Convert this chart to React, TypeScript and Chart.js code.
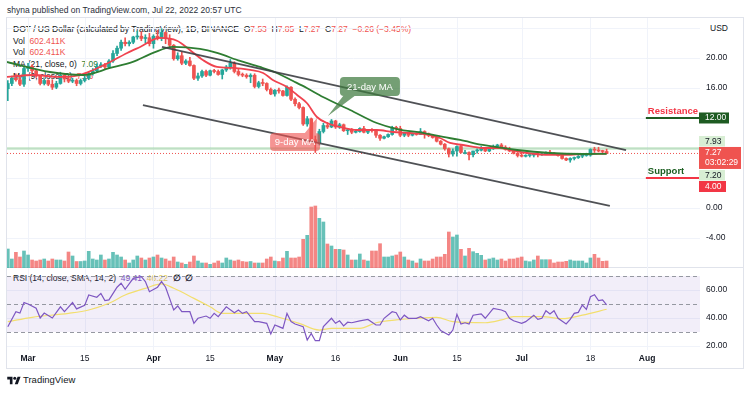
import React, { useEffect, useRef } from "react";
import { Chart, registerables } from "chart.js";

Chart.register(...registerables);

// ---------------- time axis (day 0 = 24 Feb 2022, daily bars) ----------------
const tickDays = [5, 19, 36, 50, 66, 81, 97, 111, 127, 144, 158];
const tickLabels = ["Mar", "15", "Apr", "15", "May", "16", "Jun", "15", "Jul", "18", "Aug"];
const boldTickLabels = ["Mar", "Apr", "May", "Jun", "Jul", "Aug"];

// ---------------- DOT / USD daily candles ----------------
const opens = [
  15.9, 16.6, 17.3, 17.1, 16.5, 18.6, 18.9, 18.3, 17.6, 16.6,
  17.0, 16.5, 16.1, 16.6, 17.7, 17.2, 16.9, 17.0, 16.6, 17.0,
  17.3, 17.9, 18.3, 18.9, 19.1, 18.8, 19.6, 20.6, 21.3, 22.1,
  21.9, 22.1, 22.8, 22.9, 22.6, 22.7, 21.9, 22.9, 22.6, 23.4,
  22.6, 21.7, 19.9, 20.3, 19.3, 19.6, 19.0, 17.3, 17.6, 18.2,
  17.7, 18.3, 18.2, 17.8, 18.4, 18.8, 19.3, 18.2, 17.8, 17.7,
  17.5, 17.7, 16.2, 16.7, 16.6, 15.8, 15.2, 15.7, 15.6, 15.0,
  16.1, 14.5, 13.9, 13.4, 11.2, 11.9, 9.1, 8.7, 10.2, 11.0,
  10.8, 11.6, 10.8, 11.1, 10.3, 10.4, 10.1, 10.2, 10.6, 10.1,
  10.4, 10.3, 9.7, 9.3, 9.5, 9.8, 10.7, 10.6, 9.7, 10.0,
  9.7, 9.9, 9.8, 10.2, 9.9, 9.7, 9.4, 8.9, 8.5, 7.9,
  7.2, 7.6, 8.2, 7.4, 7.4, 7.1, 7.6, 7.7, 7.9, 7.6,
  7.9, 8.2, 8.4, 8.1, 7.8, 7.6, 7.3, 7.0, 6.9, 7.0,
  7.05, 7.2, 7.1, 7.2, 7.4, 7.3, 7.2, 7.0, 6.6, 6.4,
  6.6, 6.7, 6.9, 7.0, 7.05, 7.8, 7.7, 7.6, 7.53,
];
const highs = [
  17.0, 17.6, 17.9, 17.6, 18.9, 19.3, 19.1, 18.5, 17.7, 17.2,
  17.1, 17.1, 16.9, 18.1, 17.8, 17.5, 17.3, 17.2, 17.2, 17.6,
  18.2, 18.6, 19.2, 19.4, 19.3, 19.8, 21.0, 21.6, 22.4, 22.7,
  22.3, 22.9, 23.6, 23.5, 23.1, 23.3, 23.1, 23.7, 23.9, 23.5,
  23.1, 21.8, 20.7, 20.8, 19.8, 20.1, 19.1, 18.0, 18.4, 18.4,
  18.4, 18.5, 18.4, 18.5, 19.0, 19.8, 19.5, 18.5, 18.0, 17.9,
  17.9, 17.9, 16.9, 17.2, 16.7, 16.0, 15.8, 16.0, 15.7, 16.3,
  16.2, 14.7, 14.1, 13.5, 12.2, 12.0, 9.6, 10.5, 11.3, 11.4,
  11.8, 11.7, 11.3, 11.2, 10.5, 10.6, 10.4, 10.7, 10.9, 10.5,
  10.6, 10.4, 9.8, 9.6, 9.9, 10.9, 10.9, 10.9, 10.1, 10.1,
  10.0, 10.0, 10.6, 10.3, 10.0, 9.8, 9.5, 9.0, 8.6, 8.0,
  7.9, 8.3, 8.4, 7.7, 7.5, 7.6, 7.9, 8.2, 8.0, 8.0,
  8.4, 8.5, 8.6, 8.3, 8.1, 7.7, 7.4, 7.4, 7.1, 7.1,
  7.3, 7.3, 7.4, 7.5, 7.7, 7.4, 7.3, 7.0, 6.7, 6.7,
  6.8, 7.0, 7.1, 7.3, 7.9, 8.1, 8.1, 7.7, 7.85,
];
const lows = [
  14.3, 16.3, 16.9, 16.3, 16.2, 18.2, 18.0, 17.4, 16.4, 16.4,
  16.3, 15.8, 15.9, 16.5, 16.8, 16.7, 16.7, 16.3, 16.4, 16.8,
  17.1, 17.7, 18.1, 18.7, 18.5, 18.6, 19.4, 20.3, 21.0, 21.6,
  21.6, 21.9, 22.5, 22.3, 22.0, 21.6, 21.3, 22.4, 22.3, 21.9,
  21.5, 19.7, 19.7, 19.1, 19.1, 18.9, 17.1, 17.0, 17.4, 17.5,
  17.6, 18.0, 17.7, 17.2, 18.2, 18.5, 18.0, 17.6, 17.5, 17.3,
  16.7, 16.0, 16.0, 16.3, 15.6, 15.1, 14.9, 15.3, 14.9, 14.9,
  14.3, 13.6, 13.2, 11.0, 10.9, 8.9, 7.4, 8.4, 10.0, 10.6,
  10.7, 10.6, 10.6, 10.2, 9.8, 9.9, 10.0, 10.1, 10.0, 9.9,
  10.1, 9.4, 9.0, 9.2, 9.4, 9.7, 10.3, 9.5, 9.5, 9.5,
  9.6, 9.7, 9.8, 9.3, 9.5, 9.3, 8.8, 8.4, 7.7, 6.8,
  6.9, 6.9, 7.3, 7.2, 6.4, 6.8, 7.3, 7.6, 7.5, 7.5,
  7.8, 8.0, 8.0, 7.7, 7.5, 7.2, 6.8, 6.8, 6.8, 6.8,
  6.8, 6.8, 7.0, 7.1, 7.2, 7.1, 6.9, 6.5, 6.3, 6.1,
  6.4, 6.6, 6.7, 6.9, 6.9, 7.4, 7.5, 7.2, 7.27,
];
const closes = [
  16.6, 17.3, 17.1, 16.5, 18.6, 18.9, 18.3, 17.6, 16.6, 17.0,
  16.5, 16.1, 16.6, 17.7, 17.2, 16.9, 17.0, 16.6, 17.0, 17.3,
  17.9, 18.3, 18.9, 19.1, 18.8, 19.6, 20.6, 21.3, 22.1, 21.9,
  22.1, 22.8, 22.9, 22.6, 22.7, 21.9, 22.9, 22.6, 23.4, 22.6,
  21.7, 19.9, 20.3, 19.3, 19.6, 19.0, 17.3, 17.6, 18.2, 17.7,
  18.3, 18.2, 17.8, 18.4, 18.8, 19.3, 18.2, 17.8, 17.7, 17.5,
  17.7, 16.2, 16.7, 16.6, 15.8, 15.2, 15.7, 15.6, 15.0, 16.1,
  14.5, 13.9, 13.4, 11.2, 11.9, 9.1, 8.7, 10.2, 11.0, 10.8,
  11.6, 10.8, 11.1, 10.3, 10.4, 10.1, 10.2, 10.6, 10.1, 10.4,
  10.3, 9.7, 9.3, 9.5, 9.8, 10.7, 10.6, 9.7, 10.0, 9.7,
  9.9, 9.8, 10.2, 9.9, 9.7, 9.4, 8.9, 8.5, 7.9, 7.2,
  7.6, 8.2, 7.4, 7.4, 7.1, 7.6, 7.7, 7.9, 7.6, 7.9,
  8.2, 8.4, 8.1, 7.8, 7.6, 7.3, 7.0, 6.9, 7.0, 7.05,
  7.2, 7.1, 7.2, 7.4, 7.3, 7.2, 7.0, 6.6, 6.4, 6.6,
  6.7, 6.9, 7.0, 7.05, 7.8, 7.7, 7.6, 7.53, 7.27,
];
// volume (relative units)
const volumes = [
  19, 9, 15.7, 11, 17, 13, 8, 7, 8, 9,
  7, 9, 8, 8, 7, 16, 12, 6.5, 6.5, 7,
  16.7, 9, 8, 13, 8, 9, 15.7, 13, 11, 8,
  5, 8, 12, 10, 8, 10, 11, 13, 10, 9,
  7, 11, 6, 5, 3.7, 6, 12, 7, 5, 5,
  3.7, 5, 7, 5, 10, 8, 7, 8, 6.5, 6,
  6.5, 5, 5, 5, 9, 11, 7, 6.5, 10, 16.7,
  10, 10, 11, 28.7, 32.7, 61, 62, 49.7, 46, 24,
  22, 18.7, 18.7, 18, 13, 8, 8, 14, 8, 7,
  17, 17, 24.3, 11, 11, 12, 13, 16, 11, 8,
  7, 5, 9, 7, 7, 9, 11, 11, 13.7, 36,
  31, 33, 18.7, 12, 19.7, 16.3, 14.7, 12.7, 8, 9,
  10, 8, 9, 7, 9, 9, 10, 11, 7, 6.3,
  8, 12, 8.3, 8.3, 8.3, 5, 6, 6, 6.7, 8,
  7, 7, 7, 5, 10, 13.7, 10, 6.7, 7,
];

// ---------------- moving averages ----------------
const ma9Days = [-0.2, 6.2, 12.9, 17.8, 21.1, 25.3, 29.5, 32.7, 37.6, 41.8, 45, 48.2, 51.7, 55.7, 59.9, 63.1, 65.5, 69, 71.5, 73.9, 76.4, 78.9, 82.1, 86.3, 91.2, 95.2, 99.4, 104.4, 106.8, 109.3, 112.5, 117.4, 121.6, 124.1, 128.3, 134, 138.2, 142.2, 148];
const ma9Values = [17.47, 17.73, 17.47, 17.73, 18.4, 19.47, 20.67, 21.47, 22.67, 22.3, 21.07, 19.73, 18.8, 18.67, 18.4, 18.0, 17.07, 16.13, 15.07, 14.0, 12.13, 11.33, 10.8, 10.4, 10.4, 10.13, 10.0, 9.73, 9.33, 8.67, 8.4, 8.0, 8.0, 7.73, 7.33, 7.07, 7.07, 7.2, 7.26];
const ma21Days = [-0.2, 10.4, 18.6, 25.3, 30.9, 35.9, 40.8, 47.5, 51.7, 57.4, 62.3, 66.5, 70.5, 73.9, 77.9, 84.6, 91.2, 96.2, 102.6, 107.6, 111.8, 117.4, 125.9, 134, 142.2, 148];
const ma21Values = [19.47, 18.13, 17.73, 18.67, 19.47, 20.67, 21.47, 21.2, 20.67, 19.6, 18.8, 18.0, 16.93, 16.0, 14.8, 13.07, 11.33, 10.53, 10.0, 9.47, 9.07, 8.4, 7.73, 7.33, 7.2, 7.22];

// ---------------- trend channel ----------------
const upperTrendDays = [38.1, 152.8];
const upperTrendPrices = [21.47, 7.73];
const lowerTrendDays = [33.4, 148.8];
const lowerTrendPrices = [13.73, 0.27];

// ---------------- levels ----------------
const resistanceLevel = 12;
const supportLevel = 4;
const markedHigh = 7.93;
const lastPrice = 7.27;
const markedLow = 7.2;
const levelStartDay = 157.7;
const countdown = "03:02:29";

// ---------------- price axis ----------------
const priceTicks = [-4, 0, 4, 8, 12, 16, 20, 24];
const labelledPriceTicks = [-4, 0, 16, 20];

// ---------------- RSI ----------------
const rsiDays = [0, 2, 3, 4, 5, 7, 8, 9, 11, 13, 14, 16, 17, 19, 20, 22, 23, 24, 25, 27, 28, 29, 31, 33, 34, 35, 37, 38, 39, 41, 42, 43, 45, 46, 47, 49, 50, 51, 52, 54, 56, 57, 58, 59, 61, 62, 64, 65, 66, 67, 68, 69, 70, 71, 73, 74, 75, 76, 77, 78, 80, 81, 82, 83, 84, 85, 87, 89, 91, 92, 93, 95, 96, 97, 98, 99, 101, 102, 104, 105, 106, 107, 109, 110, 111, 112, 113, 114, 115, 117, 118, 119, 120, 122, 123, 124, 125, 127, 128, 130, 131, 132, 133, 134, 135, 136, 138, 139, 140, 141, 142, 143, 144, 145, 146, 147, 148];
const rsiValues = [33.8, 44.5, 43.5, 51, 50, 47, 40, 43.5, 40, 48, 44.5, 51, 46.5, 49, 56.4, 54.8, 57.6, 52.4, 52.9, 62, 64.8, 60.5, 68.3, 69.5, 66, 58.8, 62, 66, 62, 45.7, 48.6, 44.5, 44.5, 36.2, 39.8, 41.4, 39.8, 43.3, 41, 48, 43.8, 45.7, 43.3, 44.5, 37.4, 37.4, 36.2, 28.6, 35, 33.8, 32.6, 43.3, 37.4, 35.7, 33.8, 24.3, 29, 23.8, 23.8, 33.8, 39.8, 36.2, 38, 34.3, 37, 36.6, 38, 39, 35, 35, 39.8, 44.5, 43.8, 38.6, 42, 39.8, 39.8, 41, 38, 39.8, 35, 31, 27.9, 31.4, 42.6, 35.7, 36.6, 35.7, 42, 42.9, 39.8, 43.3, 46.9, 45.7, 44.5, 39.8, 38, 36.2, 37.4, 42, 39, 39.8, 45.2, 42.9, 45.2, 39.8, 35.7, 39, 43.3, 44, 49.3, 46.2, 55.2, 56.6, 52.4, 52.9, 49.41];
const rsiSmaDays = [0, 6, 15, 20, 25, 29, 34, 38, 41, 46, 50, 53, 57, 63, 67, 72, 77, 80, 87, 91, 96, 101, 106, 110, 118, 122, 125, 132, 137, 142, 148];
const rsiSmaValues = [37.4, 40.5, 43.3, 45.7, 50.5, 56.4, 61.2, 64.3, 61.2, 54, 48, 43.3, 43.3, 43.3, 40.5, 36.2, 31.4, 32.6, 32.6, 36.6, 38.6, 39.8, 40.5, 37.4, 36.6, 38.6, 41, 41, 39.5, 42, 46.22];
const rsiTicks = [20, 40, 60];
const rsiBands = [30, 50, 70];

// ---------------- styling / layout ----------------
const FONT = "'Liberation Sans', Arial, sans-serif";
const TEXT = "#131722";
const GRID = "#f0f3fa";
const UP = "#26a69a";
const DOWN = "#ef5350";
const X_MIN = -0.2;
const X_MAX = 171.08;
const PRICE_MIN = -8;
const PRICE_MAX = 25.33;
const RSI_MIN = 17.14;
const RSI_MAX = 75.71;
const AXIS_W = 43;

const pts = (xs: number[], ys: number[]) => xs.map((x, i) => ({ x, y: ys[i] }));
const isUp = (i: number) => closes[i] >= opens[i];

const hiddenX = { type: "linear", display: false, min: X_MIN, max: X_MAX, offset: false };

// grid lines + right-hand axis labels drawn from the chart's own scales
function gridPlugin(yTicks: number[], labelled: number[], withTimeLabels: boolean) {
  return {
    id: "tvGrid",
    beforeDatasetsDraw(chart: any) {
      const { ctx, chartArea: a, scales } = chart;
      ctx.save();
      ctx.strokeStyle = GRID;
      ctx.lineWidth = 1;
      tickDays.forEach((d) => {
        const px = Math.round(scales.x.getPixelForValue(d)) + 0.5;
        ctx.beginPath();
        ctx.moveTo(px, a.top);
        ctx.lineTo(px, a.bottom);
        ctx.stroke();
      });
      yTicks.forEach((v) => {
        const py = Math.round(scales.y.getPixelForValue(v)) + 0.5;
        ctx.beginPath();
        ctx.moveTo(a.left, py);
        ctx.lineTo(a.right, py);
        ctx.stroke();
      });
      ctx.restore();
    },
    afterDraw(chart: any) {
      const { ctx, chartArea: a, scales } = chart;
      ctx.save();
      ctx.fillStyle = TEXT;
      ctx.font = `8.5px ${FONT}`;
      ctx.textAlign = "left";
      ctx.textBaseline = "middle";
      labelled.forEach((v) => ctx.fillText(v.toFixed(2), a.right + 6, scales.y.getPixelForValue(v)));
      if (withTimeLabels) {
        ctx.textAlign = "center";
        tickDays.forEach((d, i) => {
          const lab = tickLabels[i];
          ctx.font = `${boldTickLabels.includes(lab) ? "bold " : ""}8.5px ${FONT}`;
          ctx.fillText(lab, scales.x.getPixelForValue(d), a.bottom + 9);
        });
      }
      ctx.restore();
    },
  };
}

function drawBubble(ctx: CanvasRenderingContext2D, cx: number, cy: number, w: number, h: number, tipX: number, tipY: number, fill: string, text: string) {
  const l = cx - w / 2, t = cy - h / 2, r = l + w, b = t + h;
  const bc = Math.min(Math.max(tipX, l + 10), r - 10);
  ctx.save();
  ctx.fillStyle = fill;
  ctx.beginPath();
  ctx.roundRect(l, t, w, h, 4);
  if (tipY > b) {
    ctx.moveTo(bc + 6, b - 1);
    ctx.lineTo(tipX, tipY);
    ctx.lineTo(bc - 6, b - 1);
  } else {
    ctx.moveTo(bc - 6, t + 1);
    ctx.lineTo(tipX, tipY);
    ctx.lineTo(bc + 6, t + 1);
  }
  ctx.closePath();
  ctx.fill();
  ctx.fillStyle = "#ffffff";
  ctx.font = `9.5px ${FONT}`;
  ctx.textAlign = "center";
  ctx.textBaseline = "middle";
  ctx.fillText(text, cx, cy + 0.5);
  ctx.restore();
}

function labelBox(ctx: CanvasRenderingContext2D, left: number, top: number, w: number, h: number, bg: string, fg: string, lines: string[]) {
  ctx.save();
  ctx.fillStyle = bg;
  ctx.fillRect(left, top, w, h);
  ctx.fillStyle = fg;
  ctx.font = `8.5px ${FONT}`;
  ctx.textAlign = "left";
  ctx.textBaseline = "middle";
  lines.forEach((ln, i) => ctx.fillText(ln, left + 6, top + 5.5 + i * 10));
  ctx.restore();
}

const mainOverlay = {
  id: "mainOverlay",
  afterDatasetsDraw(chart: any) {
    const { ctx, scales } = chart;
    const x = scales.x, y = scales.y;
    drawBubble(ctx, x.getPixelForValue(89.5), y.getPixelForValue(16.2), 60, 19,
      x.getPixelForValue(79.1), y.getPixelForValue(12.27), "rgba(62,122,62,0.72)", "21-day MA");
    drawBubble(ctx, x.getPixelForValue(71.0), y.getPixelForValue(8.8), 50, 18,
      x.getPixelForValue(76.4), y.getPixelForValue(12.0), "rgba(239,83,80,0.62)", "9-day MA");
    ctx.save();
    ctx.font = `bold 9.5px ${FONT}`;
    ctx.textBaseline = "middle";
    ctx.textAlign = "left";
    const lx = x.getPixelForValue(levelStartDay) + 2;
    ctx.fillStyle = "#f23645";
    ctx.fillText("Resistance", lx, y.getPixelForValue(resistanceLevel) - 6.5);
    ctx.fillStyle = "#1b5e20";
    ctx.fillText("Support", lx, y.getPixelForValue(supportLevel) - 7);
    ctx.restore();
  },
  afterDraw(chart: any) {
    const { ctx, scales, chartArea } = chart;
    const y = scales.y;
    const left = chartArea.right - 1;
    labelBox(ctx, left, y.getPixelForValue(resistanceLevel) - 5.5, 30, 11, "#1e5b22", "#ffffff", [resistanceLevel.toFixed(2)]);
    labelBox(ctx, left, y.getPixelForValue(markedHigh) - 12.5, 26, 10.5, "#d8eed4", TEXT, [markedHigh.toFixed(2)]);
    labelBox(ctx, left, y.getPixelForValue(lastPrice) - 6.5, 42, 22, "#ef5350", "#ffffff", [lastPrice.toFixed(2), countdown]);
    labelBox(ctx, left, y.getPixelForValue(markedLow) + 16, 26, 10.5, "#d8eed4", TEXT, [markedLow.toFixed(2)]);
    labelBox(ctx, left, y.getPixelForValue(supportLevel) + 3, 27, 11, "#f23645", "#ffffff", [supportLevel.toFixed(2)]);
  },
};

const rsiOverlay = {
  id: "rsiOverlay",
  beforeDatasetsDraw(chart: any) {
    const { ctx, scales, chartArea } = chart;
    const y = scales.y;
    const top = y.getPixelForValue(rsiBands[2]);
    const bot = y.getPixelForValue(rsiBands[0]);
    ctx.save();
    ctx.fillStyle = "rgba(126,87,194,0.1)";
    ctx.fillRect(chartArea.left, top, chartArea.right - chartArea.left, bot - top);
    ctx.strokeStyle = "#9598a1";
    ctx.lineWidth = 1;
    ctx.setLineDash([4, 3]);
    rsiBands.forEach((v) => {
      const py = Math.round(y.getPixelForValue(v)) + 0.5;
      ctx.beginPath();
      ctx.moveTo(chartArea.left, py);
      ctx.lineTo(chartArea.right, py);
      ctx.stroke();
    });
    ctx.restore();
  },
};

const baseOptions = {
  responsive: false,
  animation: false,
  devicePixelRatio: 1,
  events: [],
  plugins: { legend: { display: false }, tooltip: { enabled: false } },
};

function mainConfig(): any {
  const wickColors = closes.map((_, i) => (isUp(i) ? UP : DOWN));
  const volColors = volumes.map((_, i) => (isUp(i) ? "rgba(38,166,154,0.7)" : "rgba(239,83,80,0.7)"));
  const line = (data: any[], color: string, width: number, order: number, extra: any = {}) => ({
    type: "line", data, borderColor: color, borderWidth: width, pointRadius: 0, order, yAxisID: "y", ...extra,
  });
  return {
    type: "bar",
    data: {
      datasets: [
        line(pts(upperTrendDays, upperTrendPrices), "rgba(60,62,66,0.9)", 1.8, 0),
        line(pts(lowerTrendDays, lowerTrendPrices), "rgba(60,62,66,0.9)", 1.8, 0),
        line(pts(ma21Days, ma21Values), "#2e7d32", 1.8, 1, { cubicInterpolationMode: "monotone" }),
        line(pts(ma9Days, ma9Values), "#f0434f", 1.8, 1, { cubicInterpolationMode: "monotone" }),
        line(pts([levelStartDay, X_MAX], [resistanceLevel, resistanceLevel]), "#1e5b22", 2, 1),
        line(pts([levelStartDay, X_MAX], [supportLevel, supportLevel]), "#f23645", 2, 1),
        {
          type: "bar", data: closes.map((c, i) => ({ x: i, y: [opens[i], c] })), backgroundColor: wickColors,
          barThickness: 3, grouped: false, minBarLength: 1, order: 2, yAxisID: "y",
        },
        {
          type: "bar", data: closes.map((_, i) => ({ x: i, y: [lows[i], highs[i]] })), backgroundColor: wickColors,
          barThickness: 1, grouped: false, order: 3, yAxisID: "y",
        },
        line(pts([X_MIN, X_MAX], [lastPrice, lastPrice]), "#ef5350", 1, 4, { borderDash: [1, 2] }),
        line(pts([X_MIN, X_MAX], [markedHigh, markedHigh]), "rgba(129,199,132,0.45)", 2.5, 4),
        {
          type: "bar", data: volumes.map((v, i) => ({ x: i, y: v })), backgroundColor: volColors,
          barThickness: 3, grouped: false, order: 5, yAxisID: "yv",
        },
      ],
    },
    options: {
      ...baseOptions,
      layout: { padding: { left: 0, top: 0, bottom: 0, right: AXIS_W } },
      scales: {
        x: hiddenX,
        y: { type: "linear", display: false, min: PRICE_MIN, max: PRICE_MAX },
        yv: { type: "linear", display: false, min: 0, max: 250 },
      },
    },
    plugins: [gridPlugin(priceTicks, labelledPriceTicks, false), mainOverlay],
  };
}

function rsiConfig(): any {
  return {
    type: "line",
    data: {
      datasets: [
        { data: pts(rsiDays, rsiValues), borderColor: "#7e57c2", borderWidth: 1.2, pointRadius: 0, order: 0 },
        { data: pts(rsiSmaDays, rsiSmaValues), borderColor: "#f3df6e", borderWidth: 1.2, pointRadius: 0, order: 1, cubicInterpolationMode: "monotone" },
      ],
    },
    options: {
      ...baseOptions,
      layout: { padding: { left: 0, top: 0, bottom: 18, right: AXIS_W } },
      scales: {
        x: hiddenX,
        y: { type: "linear", display: false, min: RSI_MIN, max: RSI_MAX },
      },
    },
    plugins: [gridPlugin(rsiTicks, rsiTicks, true), rsiOverlay],
  };
}

function Txt(props: { x: number; y: number; size?: number; color?: string; bold?: boolean; children: any }) {
  const size = props.size ?? 8.5;
  return (
    <div
      style={{
        position: "absolute", left: props.x, top: props.y - 6, height: 12, lineHeight: "12px",
        fontSize: size, fontFamily: FONT, color: props.color ?? TEXT, whiteSpace: "nowrap",
        fontWeight: props.bold ? 700 : 400,
      }}
    >
      {props.children}
    </div>
  );
}

const V = (p: { c: string; children: any }) => <span style={{ color: p.c }}>{p.children}</span>;

export default function App() {
  const mainRef = useRef<HTMLCanvasElement>(null);
  const rsiRef = useRef<HTMLCanvasElement>(null);

  useEffect(() => {
    const main = new Chart(mainRef.current as HTMLCanvasElement, mainConfig());
    const rsi = new Chart(rsiRef.current as HTMLCanvasElement, rsiConfig());
    return () => {
      main.destroy();
      rsi.destroy();
    };
  }, []);

  const red = "#ef5350";
  return (
    <div style={{ position: "absolute", left: 0, top: 0, width: 750, height: 393, background: "#ffffff", overflow: "hidden" }}>
      <Txt x={7} y={10} color="#2a2e39">shyna published on TradingView.com, Jul 22, 2022 20:57 UTC</Txt>
      <div style={{ position: "absolute", left: 6, top: 17, width: 738, height: 352, border: "1px solid #e0e3eb", boxSizing: "border-box" }} />
      <div style={{ position: "absolute", left: 7, top: 267, width: 736, height: 1, background: "#e0e3eb" }} />

      <Txt x={13} y={29}>
        DOT / US Dollar (calculated by TradingView), 1D, BINANCE&nbsp;&nbsp;O<V c={red}>7.53</V>&nbsp;&nbsp;H<V c={red}>7.85</V>&nbsp;&nbsp;L<V c={red}>7.27</V>&nbsp;&nbsp;C<V c={red}>7.27</V>&nbsp;&nbsp;<V c={red}>−0.26 (−3.45%)</V>
      </Txt>
      <Txt x={13} y={41}>Vol&nbsp;&nbsp;<V c={red}>602.411K</V></Txt>
      <Txt x={13} y={52}>Vol&nbsp;&nbsp;<V c={red}>602.411K</V></Txt>
      <Txt x={13} y={64}>MA (21, close, 0)&nbsp;&nbsp;<V c="#2e7d32">7.09</V></Txt>
      <Txt x={13} y={76}>MA (9, close, 0)&nbsp;&nbsp;<V c={red}>7.26</V></Txt>
      <Txt x={710} y={28}>USD</Txt>
      <Txt x={13} y={278}>
        RSI (14, close, SMA, 14, 2)&nbsp;&nbsp;<V c="#7e57c2">49.41</V>&nbsp;&nbsp;<V c="#e6cf55">46.22</V>&nbsp;&nbsp;<b>∅&nbsp;&nbsp;∅</b>
      </Txt>

      <canvas ref={mainRef} width={736} height={250} style={{ position: "absolute", left: 7, top: 18, width: 736, height: 250 }} />
      <canvas ref={rsiRef} width={736} height={100} style={{ position: "absolute", left: 7, top: 268, width: 736, height: 100 }} />

      <svg style={{ position: "absolute", left: 7, top: 376 }} width={14} height={9} viewBox="0 0 36 24">
        <path d="M14 22H7V9H0V2h14v20zM28 22h-8L27.5 2h8L28 22z" fill={TEXT} />
        <circle cx="20" cy="6" r="4" fill={TEXT} />
      </svg>
      <Txt x={23} y={380} size={9.5}>TradingView</Txt>
    </div>
  );
}
